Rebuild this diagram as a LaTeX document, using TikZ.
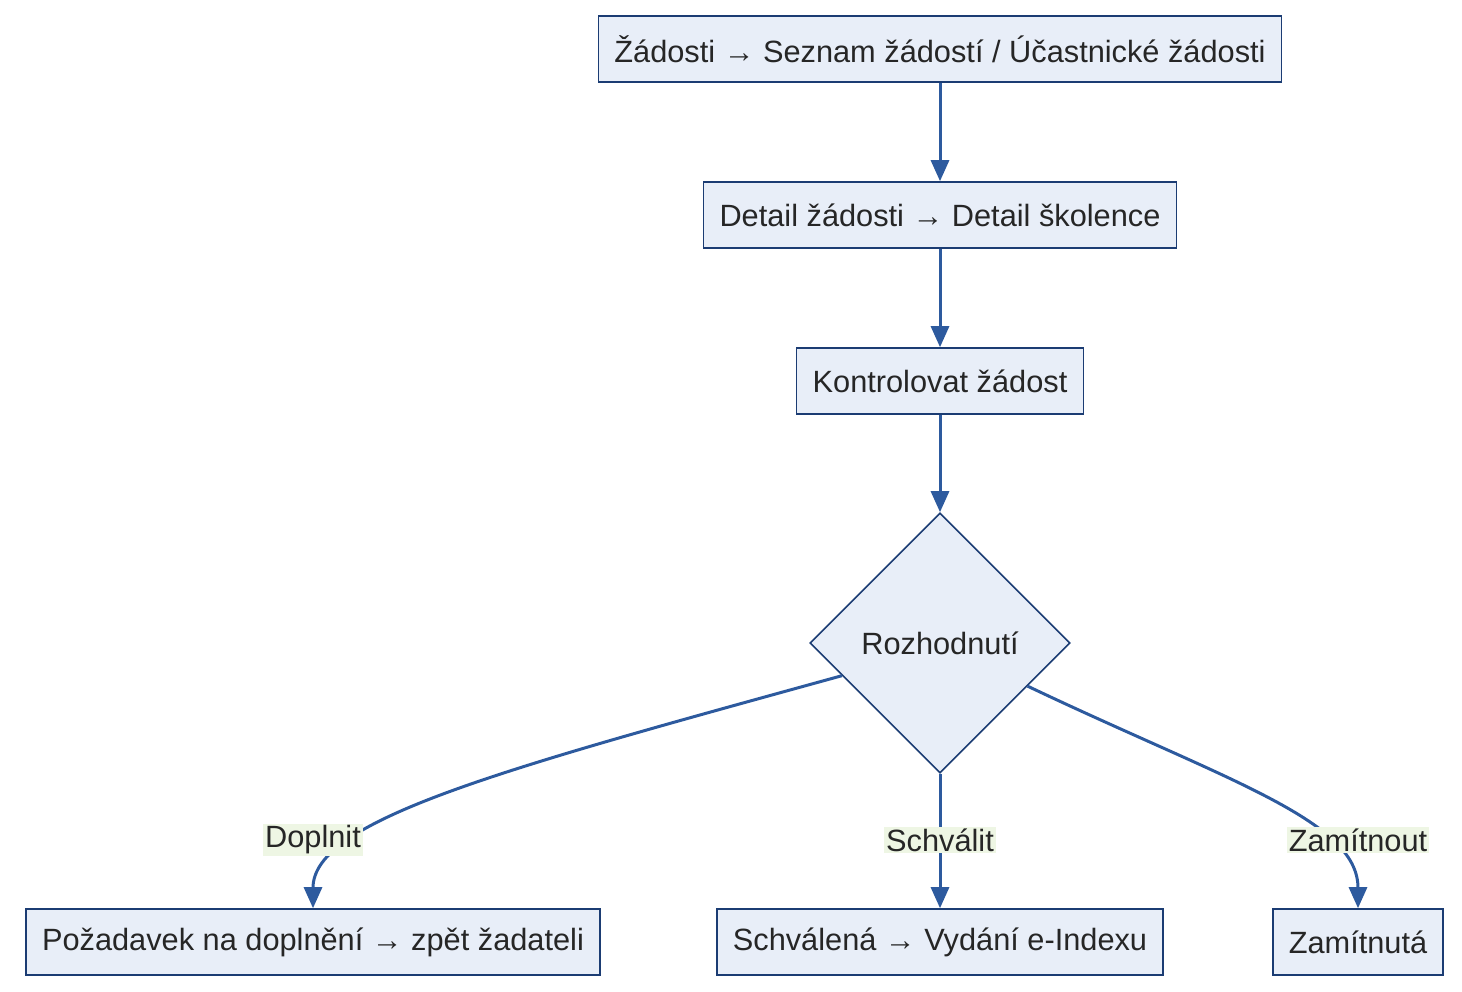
\documentclass[tikz,border=0pt]{standalone}
\usepackage{fontspec}
\setmainfont{Liberation Sans}
\usetikzlibrary{calc,shapes.geometric,arrows.meta}
\definecolor{boxfill}{HTML}{E8EEF8}
\definecolor{boxline}{HTML}{1B3C73}
\definecolor{flowc}{HTML}{2D5A9E}
\definecolor{lblfill}{HTML}{EEF6E4}
\tikzset{
  box/.style={draw=boxline,fill=boxfill,line width=0.9pt,minimum height=1.32cm,
    inner xsep=0.32cm,font=\fontsize{17.5}{20}\selectfont,text=black!85},
  dec/.style={box,shape=diamond,minimum width=5.2cm,minimum height=5.2cm,inner sep=0pt},
  flow/.style={draw=flowc,line width=1.7pt,-{Triangle[length=0.42cm,width=0.36cm]}},
  lbl/.style={fill=lblfill,inner sep=1pt,font=\fontsize{17.5}{20}\selectfont,text=black!85}
}
\begin{document}
\begin{tikzpicture}
  \useasboundingbox (0,0) rectangle (29.24,-19.84);
  % boxes
  \node[box] (seznam) at (18.8,-0.98) {Žádosti → Seznam žádostí / Účastnické žádosti};
  \node[box] (detail) at (18.8,-4.3) {Detail žádosti → Detail školence};
  \node[box] (kontrola) at (18.8,-7.62) {Kontrolovat žádost};
  \node[dec] (rozh) at (18.8,-12.86) {Rozhodnutí};
  \node[box] (doplneni) at (6.26,-18.84) {Požadavek na doplnění → zpět žadateli};
  \node[box] (schvalena) at (18.8,-18.84) {Schválená → Vydání e-Indexu};
  \node[box] (zamitnuta) at (27.16,-18.84) {Zamítnutá};
  \coordinate (rl) at ($(rozh.west)!0.25!(rozh.south)$);
  \coordinate (rr) at ($(rozh.east)!0.33!(rozh.south)$);
  % connectors
  \draw[flow] (seznam) -- (detail);
  \draw[flow] (detail) -- (kontrola);
  \draw[flow] (kontrola) -- (rozh);
  \draw[flow] (rl) .. controls (10,-15.4) and (6.26,-16.4) .. (doplneni.north);
  \draw[flow] (rozh.south) -- (schvalena.north);
  \draw[flow] (rr) .. controls (24.5,-15.6) and (27.16,-16.4) .. (zamitnuta.north);
  % labels
  \node[lbl] (ldop) at (6.26,-16.8) {Doplnit};
  \node[lbl] (lsch) at (18.8,-16.8) {Schválit};
  \node[lbl] (lzam) at (27.16,-16.8) {Zamítnout};
\end{tikzpicture}
\end{document}
